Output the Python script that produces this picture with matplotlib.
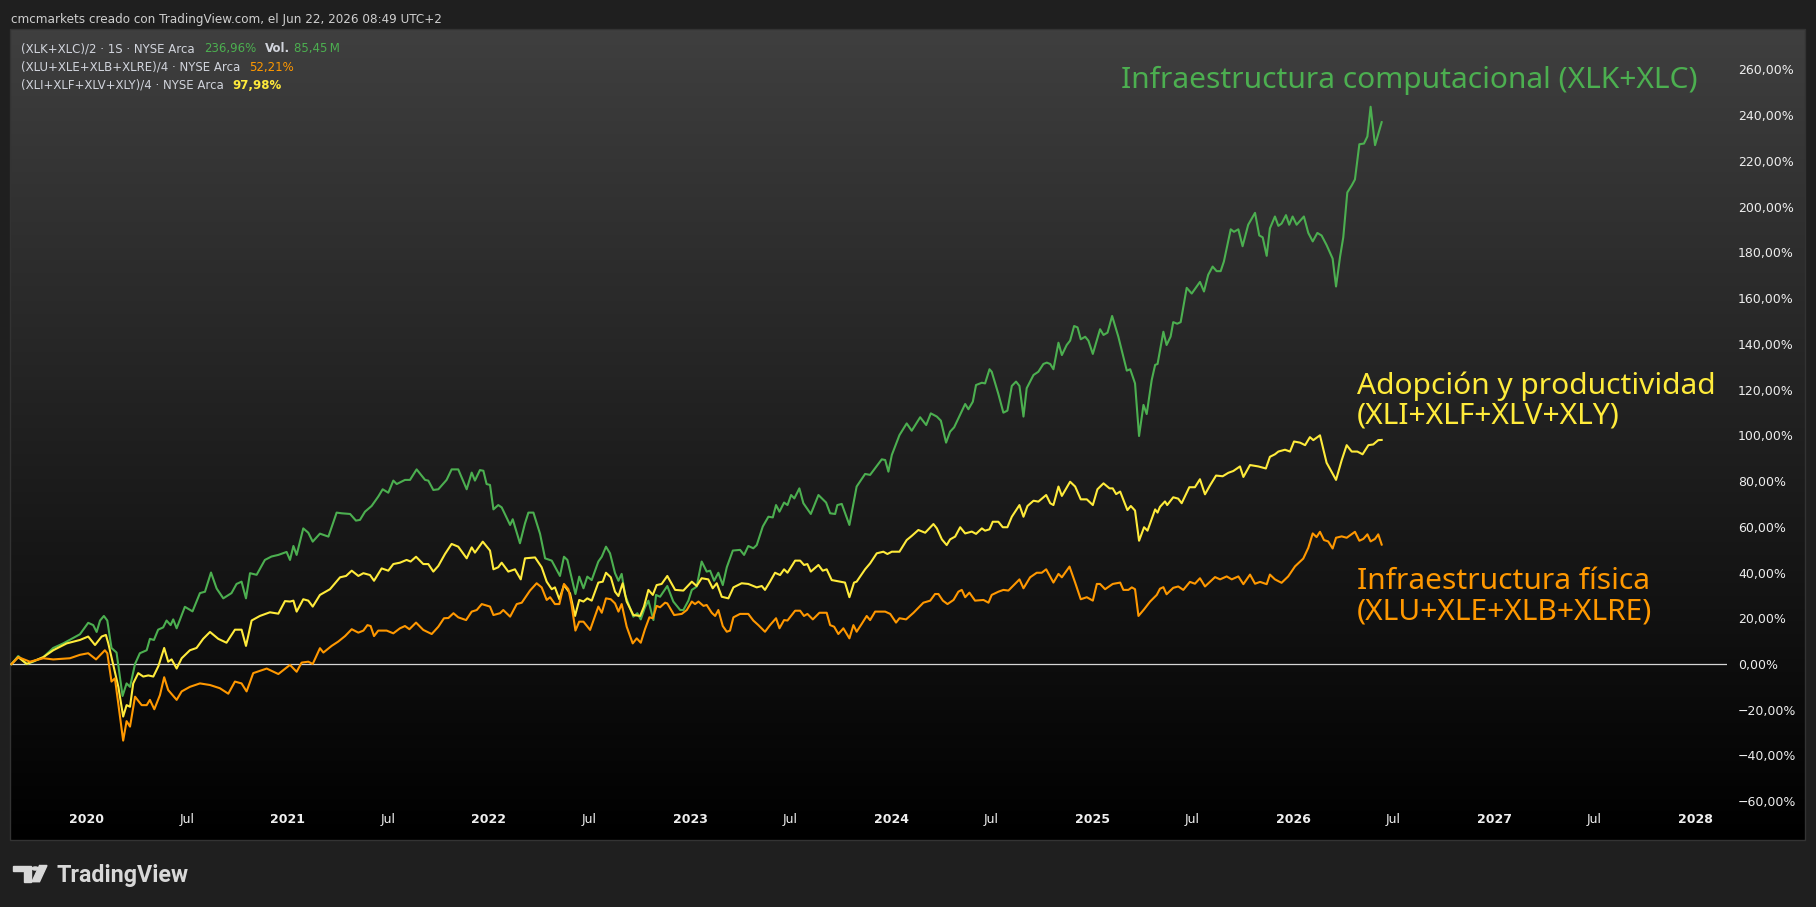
import matplotlib
matplotlib.use('Agg')
import matplotlib.pyplot as plt
import numpy as np
from matplotlib.colors import LinearSegmentedColormap
from matplotlib.patches import Polygon, Circle, Rectangle
from matplotlib.ticker import FuncFormatter

# weekly % change (x = decimal year)
green_year = [
    2019.625, 2019.658, 2019.700, 2019.733, 2019.783, 2019.832, 2019.882, 2019.924, 2019.965,
    2020.006, 2020.031, 2020.048, 2020.065, 2020.084, 2020.101, 2020.122, 2020.147, 2020.177, 2020.197,
    2020.214, 2020.239, 2020.263, 2020.297, 2020.313, 2020.333, 2020.354, 2020.379, 2020.396, 2020.416,
    2020.429, 2020.446, 2020.487, 2020.525, 2020.562, 2020.587, 2020.617, 2020.645, 2020.678, 2020.719,
    2020.744, 2020.769, 2020.791, 2020.811, 2020.844, 2020.885, 2020.918, 2020.952, 2020.993,
    2021.010, 2021.027, 2021.043, 2021.076, 2021.101, 2021.123, 2021.159, 2021.201, 2021.242, 2021.267,
    2021.309, 2021.338, 2021.358, 2021.383, 2021.416, 2021.449, 2021.471, 2021.499, 2021.524, 2021.541,
    2021.582, 2021.607, 2021.640, 2021.682, 2021.698, 2021.723, 2021.748, 2021.789, 2021.814, 2021.847,
    2021.889, 2021.914, 2021.930, 2021.955, 2021.972, 2021.988, 2022.005, 2022.022, 2022.046, 2022.063,
    2022.105, 2022.118, 2022.154, 2022.179, 2022.196, 2022.221, 2022.254, 2022.279, 2022.312, 2022.353,
    2022.373, 2022.390, 2022.430, 2022.449,
    2022.470, 2022.489, 2022.511, 2022.544, 2022.561, 2022.582, 2022.602, 2022.627, 2022.644, 2022.660,
    2022.677, 2022.718, 2022.738, 2022.755, 2022.776, 2022.793, 2022.818, 2022.831, 2022.851, 2022.887,
    2022.917, 2022.951, 2022.967, 2022.992, 2023.009, 2023.033, 2023.058, 2023.083, 2023.100, 2023.120,
    2023.141, 2023.163, 2023.183, 2023.213, 2023.249, 2023.269, 2023.290, 2023.315, 2023.332, 2023.362,
    2023.390, 2023.412, 2023.428, 2023.445, 2023.468, 2023.485, 2023.503, 2023.519, 2023.544, 2023.564,
    2023.601, 2023.639, 2023.677, 2023.697, 2023.722, 2023.733, 2023.755, 2023.793, 2023.829, 2023.871,
    2023.896, 2023.921, 2023.954, 2023.971, 2023.987, 2024.004, 2024.042, 2024.078, 2024.103, 2024.145,
    2024.175, 2024.198, 2024.228, 2024.248, 2024.274, 2024.294, 2024.314, 2024.369, 2024.385, 2024.407,
    2024.423, 2024.452, 2024.468, 2024.490, 2024.501, 2024.534, 2024.559, 2024.579, 2024.601, 2024.622,
    2024.639, 2024.659, 2024.675, 2024.709, 2024.733, 2024.758, 2024.775, 2024.792, 2024.808, 2024.833,
    2024.850, 2024.874, 2024.891, 2024.911, 2024.928, 2024.944, 2024.966, 2024.982, 2025.004, 2025.040,
    2025.057, 2025.077, 2025.100, 2025.131, 2025.173, 2025.190, 2025.214, 2025.234, 2025.256, 2025.272,
    2025.297, 2025.314, 2025.326,
    2025.355, 2025.371, 2025.391, 2025.404, 2025.424, 2025.441, 2025.471, 2025.496, 2025.537, 2025.557,
    2025.578, 2025.600, 2025.620, 2025.640, 2025.656, 2025.690, 2025.706, 2025.728, 2025.749, 2025.777,
    2025.811, 2025.832, 2025.849, 2025.869, 2025.885, 2025.910, 2025.927, 2025.943, 2025.965, 2025.981,
    2025.998, 2026.018, 2026.054, 2026.076, 2026.098, 2026.121, 2026.142, 2026.167, 2026.197, 2026.214,
    2026.234, 2026.250, 2026.270, 2026.292, 2026.308, 2026.330, 2026.353, 2026.370, 2026.386, 2026.408,
    2026.441]
green_pct = [
    0, 3.5, 0, 1, 3, 7, 9, 11, 13,
    18, 17, 14, 19, 21, 19, 7, 5, -14, -8.5,
    -10, 0, 4.7, 6, 11, 10.5, 15, 16, 19, 17,
    19.5, 15.6, 25, 23, 31, 31.6, 40, 33, 28.7, 31,
    35, 36, 28.7, 39.7, 39, 45.5, 47, 47.7, 49,
    45.5, 51.6, 47.7, 59.3, 57.4, 53.5, 57, 55.7, 66.2, 65.9,
    65.6, 62.7, 63, 66.6, 69.1, 73.2, 76.4, 74.9, 80.2, 78.7,
    80.5, 80.5, 85.1, 80.5, 80.2, 76.1, 76.4, 80.5, 85.1, 85.1,
    76.4, 83.7, 80.2, 84.8, 84.5, 78.7, 78.3, 67.6, 69.5, 68.5,
    60.8, 63.3, 52.8, 61.5, 66.2, 66.2, 56.9, 46.2, 45.2, 38.5,
    46.9, 45.5, 30.6, 38.2,
    33.1, 38.2, 36.7, 44.8, 46.9, 51.3, 48.4, 39.7, 36.4, 39.4,
    30.2, 20.7, 22.2, 19.5, 24.8, 27.7, 19.2, 30.2, 29.4, 34.1,
    27.3, 23.6, 23.6, 27.7, 32.4, 33.8, 44.8, 40.4, 40.8, 36.4,
    39.9, 34.5, 42.3, 49.6, 49.9, 47.7, 51.6, 50.6, 52, 60.1,
    64.4, 64.1, 69.5, 66.6, 70.6, 69.5, 73.9, 72.4, 76.8, 70.3,
    65.6, 73.9, 70.6, 65.9, 65.6, 69.5, 70, 60.8, 77.6, 83.1,
    82.7, 85.6, 89.5, 89.2, 84.1, 91.4, 100.1, 105.2, 102, 107.9,
    104.5, 109.6, 108.2, 106.4, 96.8, 101.6, 103.5, 113.7, 111.4, 114.7,
    122, 123, 122.7, 128.9, 127.8, 118.1, 109.9, 110.8, 121.6, 123.5,
    121.6, 108.2, 120.6, 126.4, 127.8, 131.2, 131.8, 131.2, 128.9, 140.5,
    135.1, 139.5, 141.4, 147.8, 147.2, 142, 143.1, 141.4, 135.6, 146.4,
    143.9, 144.9, 152.2, 143.1, 128.3, 128.9, 122.7, 99.7, 113.3, 109.3,
    124.2, 130.8, 131.2,
    145.3, 139.5, 143.2, 149.5, 148.8, 149.5, 164.5, 162, 167.1, 162.9,
    170.2, 173.8, 171.8, 171.8, 176, 190.1, 189, 190.1, 182.7, 192.1,
    197.3, 187.4, 186.6, 178.5, 190.5, 195.7, 191.6, 192.6, 196.3, 192.1,
    195.7, 192.1, 195.7, 188.5, 184.8, 188.5, 187.4, 183.2, 177.3, 165.1,
    178.1, 186.6, 206.2, 209.3, 211.9, 227.3, 227.6, 230.7, 243.7, 226.9,
    236.96]

yellow_year = [
    2019.625, 2019.658, 2019.700, 2019.783, 2019.832, 2019.899, 2019.965, 2020.006, 2020.040, 2020.073,
    2020.094, 2020.106, 2020.131, 2020.156, 2020.180, 2020.197, 2020.214, 2020.230, 2020.255, 2020.280,
    2020.305, 2020.330, 2020.355, 2020.384, 2020.404, 2020.421, 2020.446, 2020.471, 2020.512, 2020.545,
    2020.578, 2020.612, 2020.653, 2020.694, 2020.736, 2020.769, 2020.791, 2020.819, 2020.860, 2020.910,
    2020.952, 2020.985,
    2021.010, 2021.027, 2021.043, 2021.076, 2021.101, 2021.123, 2021.159, 2021.209, 2021.259, 2021.289,
    2021.317, 2021.350, 2021.375, 2021.408, 2021.428, 2021.466, 2021.499, 2021.524, 2021.557, 2021.590,
    2021.610, 2021.637, 2021.673, 2021.698, 2021.723, 2021.748, 2021.781, 2021.814, 2021.847, 2021.889,
    2021.914, 2021.930, 2021.969, 2022.005, 2022.022, 2022.046, 2022.063, 2022.096, 2022.129, 2022.158,
    2022.179, 2022.229, 2022.262, 2022.287, 2022.312, 2022.328, 2022.350, 2022.373, 2022.403, 2022.428,
    2022.449,
    2022.470, 2022.489, 2022.511, 2022.544, 2022.566, 2022.582, 2022.606, 2022.627, 2022.644, 2022.665,
    2022.685, 2022.718, 2022.752, 2022.771, 2022.793, 2022.815, 2022.834, 2022.859, 2022.887, 2022.926,
    2022.967, 2023.009, 2023.033, 2023.058, 2023.091, 2023.113, 2023.133, 2023.158, 2023.191, 2023.216,
    2023.257, 2023.290, 2023.332, 2023.357, 2023.373, 2023.398, 2023.423, 2023.448, 2023.468, 2023.485,
    2023.523, 2023.548, 2023.567, 2023.584, 2023.601, 2023.639, 2023.660, 2023.680, 2023.705, 2023.747,
    2023.771, 2023.793, 2023.816, 2023.829, 2023.871,
    2023.896, 2023.929, 2023.962, 2023.982, 2024.004, 2024.042, 2024.078, 2024.103, 2024.136, 2024.170,
    2024.211, 2024.228, 2024.253, 2024.277, 2024.294, 2024.319, 2024.344, 2024.369, 2024.402, 2024.423,
    2024.452, 2024.468, 2024.490, 2024.506, 2024.534, 2024.556, 2024.579, 2024.601, 2024.639, 2024.659,
    2024.679, 2024.709, 2024.733, 2024.772, 2024.792, 2024.808, 2024.833, 2024.850, 2024.891, 2024.916,
    2024.944, 2024.974, 2025.004, 2025.027, 2025.057, 2025.087, 2025.103, 2025.120, 2025.140, 2025.176,
    2025.193, 2025.214, 2025.234, 2025.259, 2025.276, 2025.314, 2025.326,
    2025.338, 2025.363, 2025.374, 2025.404, 2025.429, 2025.446, 2025.484, 2025.512, 2025.537, 2025.562,
    2025.587, 2025.617, 2025.650, 2025.678, 2025.703, 2025.736, 2025.753, 2025.786, 2025.827, 2025.865,
    2025.885, 2025.910, 2025.927, 2025.960, 2025.985, 2026.005, 2026.035, 2026.060, 2026.084, 2026.101,
    2026.134, 2026.167, 2026.214, 2026.242, 2026.267, 2026.292, 2026.320, 2026.346, 2026.375, 2026.399,
    2026.424, 2026.441]
yellow_pct = [
    0, 3, 0, 3, 6, 9, 10.5, 12, 8.3, 12,
    12.7, 9, -0.4, -10, -23, -18, -18.7, -8.5, -4, -5.5,
    -5, -5.5, -1, 7, 1, 2, -2, 2.5, 6, 7,
    11, 14, 11, 9.3, 15, 15, 7.9, 19, 21, 22.6,
    22, 27.5,
    27.3, 27.7, 22.9, 28.3, 27.7, 25.1, 30.2, 32.7, 37.9, 38.5,
    40.8, 38.5, 39.7, 38.9, 36.4, 41.8, 40.8, 43.7, 44.3, 45.5,
    44.8, 46.9, 43.7, 43.7, 40.4, 42.9, 48.1, 52.5, 51.3, 46.2,
    51, 48.7, 53.5, 49.6, 41.4, 42.3, 44.3, 40.4, 41.4, 37,
    46.2, 46.6, 42.3, 36, 32.7, 33.5, 28.3, 34.5, 30.9, 21,
    28,
    27.3, 28.7, 27.7, 35.6, 36, 39.9, 37.9, 31.6, 29.7, 35.3,
    27.3, 21.4, 21, 25.1, 32.4, 30.2, 34.5, 35, 38.5, 32.4,
    32.1, 36, 34.1, 37.5, 37, 33.1, 35.3, 29.4, 28.7, 33.5,
    35.3, 35, 33.5, 34.1, 32.4, 36, 39.9, 38.9, 41.4, 39.9,
    45.2, 45.2, 43.3, 43.7, 40.4, 43.3, 40.8, 41.4, 36.7, 36,
    35.6, 29.2, 35.6, 36, 41.4,
    44, 48.4, 49.1, 48.1, 49.1, 49.1, 54.2, 56, 58.6, 57.4,
    61.2, 59.3, 54.5, 52, 54.5, 55.7, 59.8, 57.1, 57.9, 56.9,
    59.3, 58.3, 58.9, 62.2, 62.2, 59.8, 59.8, 64.4, 69.5, 64.4,
    69.1, 71.4, 71, 73.9, 70.3, 69.5, 77.6, 73.5, 79.7, 77.6,
    72, 72, 69.5, 76.4, 79, 76.8, 76.8, 74.3, 75.4, 67.3,
    69.1, 67.1, 53.9, 59.8, 58.3, 67.6, 66.2,
    68.7, 71.1, 69.5, 72.9, 72.3, 70.3, 77.3, 77.3, 80.8, 74.2,
    78.1, 82.4, 82.1, 83.6, 84.4, 86.4, 81.8, 87, 86.4, 85.5,
    90.6, 91.7, 92.9, 93.7, 92.9, 97.3, 96.8, 95.7, 99.2, 97.9,
    100, 88, 80.5, 89.1, 95.7, 92.9, 92.9, 91.7, 95.7, 96,
    97.9, 97.98]

orange_year = [
    2019.625, 2019.658, 2019.716, 2019.783, 2019.832, 2019.915, 2019.965, 2020.006, 2020.045, 2020.089,
    2020.101, 2020.122, 2020.139, 2020.180, 2020.197, 2020.214, 2020.239, 2020.272, 2020.297, 2020.313,
    2020.335, 2020.363, 2020.384, 2020.404, 2020.446, 2020.471, 2020.512, 2020.562, 2020.612, 2020.661,
    2020.703, 2020.736, 2020.769, 2020.794, 2020.827, 2020.894, 2020.952,
    2021.010, 2021.043, 2021.068, 2021.101, 2021.123, 2021.159, 2021.176, 2021.217, 2021.250, 2021.284,
    2021.317, 2021.350, 2021.375, 2021.395, 2021.411, 2021.428, 2021.449, 2021.491, 2021.524, 2021.557,
    2021.582, 2021.604, 2021.637, 2021.673, 2021.715, 2021.748, 2021.776, 2021.798, 2021.823, 2021.847,
    2021.886, 2021.914, 2021.939, 2021.964, 2022.005, 2022.022, 2022.055, 2022.071, 2022.105, 2022.138,
    2022.163, 2022.204, 2022.237, 2022.262, 2022.287, 2022.304, 2022.328, 2022.350, 2022.373, 2022.395,
    2022.411, 2022.430, 2022.449,
    2022.470, 2022.503, 2022.544, 2022.561, 2022.582, 2022.606, 2022.627, 2022.644, 2022.660, 2022.685,
    2022.715, 2022.735, 2022.755, 2022.776, 2022.798, 2022.815, 2022.834, 2022.851, 2022.876, 2022.887,
    2022.921, 2022.959, 2022.984, 2023.009, 2023.025, 2023.042, 2023.067, 2023.083, 2023.108, 2023.125,
    2023.141, 2023.163, 2023.183, 2023.199, 2023.216, 2023.249, 2023.290, 2023.315, 2023.340, 2023.373,
    2023.398, 2023.428, 2023.445, 2023.468, 2023.485, 2023.523, 2023.548, 2023.567, 2023.584, 2023.611,
    2023.644, 2023.680, 2023.697, 2023.717, 2023.738, 2023.763, 2023.793, 2023.813, 2023.829, 2023.854,
    2023.879,
    2023.896, 2023.921, 2023.971, 2023.996, 2024.025, 2024.042, 2024.075, 2024.112, 2024.161, 2024.195,
    2024.219, 2024.236, 2024.258, 2024.281, 2024.311, 2024.335, 2024.352, 2024.369, 2024.390, 2024.418,
    2024.460, 2024.485, 2024.501, 2024.534, 2024.559, 2024.584, 2024.639, 2024.659, 2024.692, 2024.725,
    2024.750, 2024.772, 2024.808, 2024.833, 2024.850, 2024.888, 2024.916, 2024.944, 2024.974, 2025.004,
    2025.024, 2025.040, 2025.065, 2025.103, 2025.140, 2025.156, 2025.181, 2025.198, 2025.214, 2025.231,
    2025.259, 2025.289, 2025.322,
    2025.338, 2025.355, 2025.371, 2025.404, 2025.429, 2025.454, 2025.487, 2025.512, 2025.537, 2025.562,
    2025.612, 2025.637, 2025.670, 2025.695, 2025.728, 2025.753, 2025.786, 2025.811, 2025.836, 2025.869,
    2025.885, 2025.910, 2025.943, 2025.976, 2026.010, 2026.051, 2026.076, 2026.098, 2026.117, 2026.134,
    2026.154, 2026.175, 2026.197, 2026.214, 2026.242, 2026.267, 2026.308, 2026.330, 2026.350, 2026.370,
    2026.386, 2026.408, 2026.424, 2026.441]
orange_pct = [
    0, 3, 1, 2.5, 2, 2.5, 4, 4.7, 2, 6,
    4.7, -7.7, -6.3, -33.5, -25, -27.4, -14.3, -18, -18, -15.7,
    -19.8, -13.6, -5.8, -11.4, -15.7, -12, -10, -8.5, -9.2, -10.6,
    -13, -7.7, -8.5, -12, -4, -2, -4.4,
    -0.4, -3.4, 0.6, 1, 0, 6.9, 5, 7.9, 9.8, 12.2,
    15.2, 13.7, 14.6, 17, 16.6, 12.2, 14.6, 14.6, 13.4, 15.6,
    16.6, 15.2, 18.1, 14.9, 13.1, 16.3, 20, 20.1, 22.2, 20.4,
    19.2, 22.9, 23.6, 26.2, 25.1, 21.4, 22.2, 23.6, 20.7, 26.2,
    26.8, 32.1, 35.3, 33.5, 28, 29.2, 26.2, 26.2, 35, 32.7,
    25.8, 14.6, 18.5,
    18.5, 14.9, 25.1, 22.4, 28.7, 28.3, 26.5, 22.9, 26.2, 16.3,
    9, 11.2, 9.3, 15.2, 20.4, 20, 25.4, 24.8, 26.8, 26.5,
    21.4, 21.9, 23.6, 27.3, 26.2, 27.3, 25.4, 25.8, 22.4, 21,
    23.6, 16.6, 14.1, 14.6, 20.4, 21.9, 21.9, 19, 17, 14.1,
    17, 20, 15.6, 19.2, 19, 23.3, 23.3, 21, 21.9, 19.5,
    22.4, 22.4, 17, 16.3, 13.1, 15.6, 11.2, 17, 14.1, 17.5,
    21,
    19.2, 22.9, 22.9, 21.9, 18.1, 20, 19.5, 22.4, 26.8, 27.7,
    30.6, 30.6, 27.7, 26.2, 28, 31.6, 32.4, 29.2, 31.2, 27.7,
    28, 26.8, 30.2, 31.6, 32.4, 32.1, 37, 33.1, 37.9, 39.9,
    39.9, 41.4, 35.6, 39.4, 37.9, 42.6, 35.6, 28.3, 29.2, 27.7,
    35, 35, 32.7, 35, 35.6, 32.4, 32.4, 33.5, 32.7, 21,
    23.9, 27.3, 30.2,
    32.9, 33.6, 30.5, 33.3, 33.9, 32.4, 35.9, 35.1, 37.5, 33.9,
    38, 37, 38.3, 37, 38.3, 34.9, 39.1, 35.1, 35.9, 34.9,
    39.1, 37, 35.5, 38.3, 42.7, 46.1, 50.8, 57.1, 55.5, 57.8,
    54.2, 53.6, 50.5, 55.2, 55.8, 55.2, 57.8, 53.9, 54.7, 56.7,
    53.6, 54.7, 56.7, 52.21]

y_ticks = list(range(-60, 261, 20))
x_ticks = [2020, 2020.496, 2021, 2021.496, 2022, 2022.496, 2023, 2023.496, 2024, 2024.497,
           2025, 2025.496, 2026, 2026.496, 2027, 2027.496, 2028]
x_labels = ['2020', 'Jul', '2021', 'Jul', '2022', 'Jul', '2023', 'Jul', '2024', 'Jul',
            '2025', 'Jul', '2026', 'Jul', '2027', 'Jul', '2028']

GREEN = '#4caf50'
ORANGE = '#ff9800'
YELLOW = '#ffeb3b'
LABEL = '#d1d4dc'

W, H = 1816, 907

def fx(x):
    return x / W

def fy(y):
    return 1 - y / H

fig = plt.figure(figsize=(W / 100, H / 100), dpi=100, facecolor='#1f1f1f')
renderer = fig.canvas.get_renderer()

# chart panel with vertical gradient
bg = fig.add_axes([fx(10), fy(840), fx(1805) - fx(10), fy(29) - fy(840)], zorder=0)
grad = np.linspace(0, 1, 256).reshape(-1, 1)
cmap = LinearSegmentedColormap.from_list('tvbg', ['#000000', '#3f3f3f'])
bg.imshow(grad, aspect='auto', cmap=cmap, origin='lower', extent=[0, 1, 0, 1])
bg.axis('off')
fig.add_artist(Rectangle((fx(10), fy(840)), fx(1805) - fx(10), fy(29) - fy(840),
                         transform=fig.transFigure, fill=False, edgecolor='#333333', lw=1))

ax = fig.add_axes([fx(10), fy(803), fx(1727) - fx(10), fy(29) - fy(803)], zorder=1)
ax.patch.set_alpha(0)
for s in ax.spines.values():
    s.set_visible(False)
ax.set_xlim(2019.617, 2028.159)
ax.set_ylim(-60.8, 277.7)

ax.axhline(0, color='#d6d6d6', lw=0.9, zorder=1)
ax.plot(green_year, green_pct, color=GREEN, lw=1.5, zorder=2)
ax.plot(yellow_year, yellow_pct, color=YELLOW, lw=1.5, zorder=3)
ax.plot(orange_year, orange_pct, color=ORANGE, lw=1.5, zorder=4)

def pct(v, pos):
    s = '{:.2f}%'.format(abs(v)).replace('.', ',')
    return ('\u2212' + s) if v < 0 else s

ax.yaxis.tick_right()
ax.set_yticks(y_ticks)
ax.yaxis.set_major_formatter(FuncFormatter(pct))
ax.tick_params(axis='y', length=0, pad=7.9, labelsize=9, labelcolor='#eeeeee')
ax.set_xticks(x_ticks)
ax.set_xticklabels(x_labels)
ax.tick_params(axis='x', length=0, pad=7, labelsize=9, labelcolor='#f0f0f0')
for lab in ax.get_xticklabels():
    if lab.get_text() != 'Jul':
        lab.set_fontweight('bold')

def fit_text(x, y, s, color, width, family='DejaVu Sans', weight='normal'):
    t = fig.text(fx(x), fy(y), s, color=color, fontsize=10, family=family,
                 fontweight=weight, va='baseline', ha='left')
    w = t.get_window_extent(renderer).width
    t.set_fontsize(10 * width / w)
    return t

# header
fit_text(11, 22.5, 'cmcmarkets creado con TradingView.com, el Jun 22, 2026 08:49 UTC+2', '#cfcfcf', 429)

# legend rows
leg = fit_text(20.7, 52, '(XLK+XLC)/2 \u00b7 1S \u00b7 NYSE Arca', LABEL, 174)
leg_size = leg.get_fontsize()

def legend_row(x, y, parts):
    for s, color, weight, gap in parts:
        t = fig.text(fx(x), fy(y), s, color=color, fontsize=leg_size, fontweight=weight,
                     va='baseline', ha='left')
        x += t.get_window_extent(renderer).width + gap

legend_row(204, 52, [('236,96%', GREEN, 'normal', 9), ('Vol.', LABEL, 'bold', 4),
                     ('85,45\u2009M', GREEN, 'normal', 0)])
legend_row(20.7, 70.5, [('(XLU+XLE+XLB+XLRE)/4 \u00b7 NYSE Arca', LABEL, 'normal', 9),
                        ('52,21%', ORANGE, 'normal', 0)])
legend_row(20.7, 89, [('(XLI+XLF+XLV+XLY)/4 \u00b7 NYSE Arca', LABEL, 'normal', 9),
                      ('97,98%', YELLOW, 'bold', 0)])

# annotations on the chart
title = fit_text(1121, 88, 'Infraestructura computacional (XLK+XLC)', GREEN, 578, family='Noto Sans')
size = title.get_fontsize()
for x, y, s, c in [(1357, 394, 'Adopción y productividad', YELLOW),
                   (1357, 424, '(XLI+XLF+XLV+XLY)', YELLOW),
                   (1357, 589, 'Infraestructura física', ORANGE),
                   (1357, 619, '(XLU+XLE+XLB+XLRE)', ORANGE)]:
    fig.text(fx(x), fy(y), s, color=c, fontsize=size, family='Noto Sans', va='baseline', ha='left')

# TradingView logo
logo_c = '#d8d8d8'
fig.add_artist(Polygon([(fx(13.4), fy(865.5)), (fx(30.6), fy(865.5)), (fx(30.6), fy(881.7)),
                        (fx(23.7), fy(881.7)), (fx(23.7), fy(871)), (fx(13.4), fy(871))],
                       closed=True, transform=fig.transFigure, color=logo_c))
fig.add_artist(Circle((fx(35.3), fy(868.5)), 3.1 / W, transform=fig.transFigure, color=logo_c))
fig.add_artist(Polygon([(fx(39.5), fy(865.5)), (fx(47.0), fy(865.5)), (fx(39.5), fy(881.7)),
                        (fx(32.0), fy(881.7))],
                       closed=True, transform=fig.transFigure, color=logo_c))
fit_text(56.6, 881.7, 'TradingView', logo_c, 132, family='Roboto', weight='bold')

fig.savefig('out.png', dpi=100, facecolor=fig.get_facecolor())
